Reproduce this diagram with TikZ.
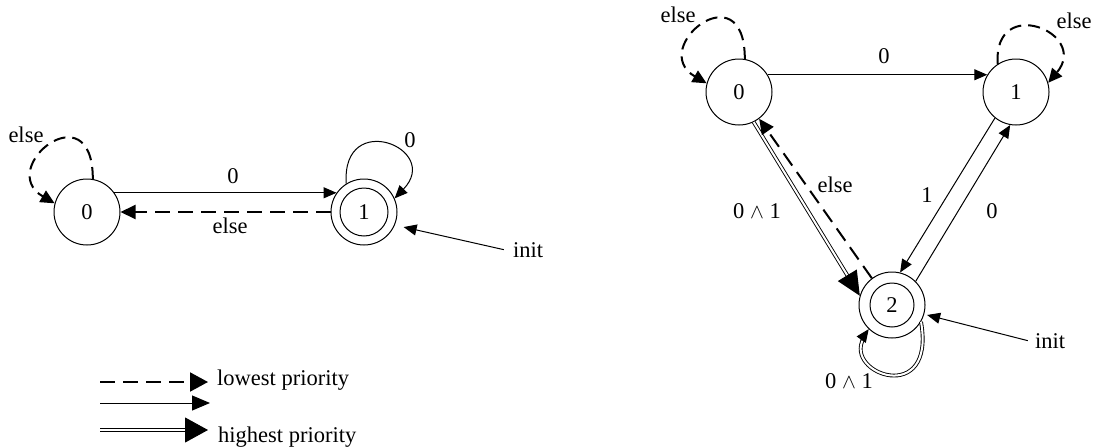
\documentclass[tikz,border=0pt]{standalone}
\usepackage{fontspec}
\setmainfont{Liberation Serif}
\usetikzlibrary{arrows.meta,calc}
\tikzset{
  txt/.style={font=\fontsize{22.5}{26}\selectfont},
  state/.style={circle,draw,line width=1pt,minimum size=66pt,inner sep=0pt,txt},
  accept/.style={path picture={\draw[line width=1pt] (path picture bounding box.center) circle (#1);}},
  lbl/.style={anchor=base,inner sep=0pt,txt},
  edge/.style={line width=1pt,-{Triangle[length=13pt,width=11pt]}},
  dedge/.style={line width=2pt,dash pattern=on 15pt off 8pt,-{Triangle[length=15pt,width=14pt]}},
  dloop/.style={line width=2pt,dash pattern=on 12pt off 7pt,-{Triangle[length=14pt,width=13pt]}},
  dbl/.style={line width=0.9pt,double,double distance=2pt},
  bigtip/.style={line width=1pt,-{Triangle[length=24pt,width=22pt]}},
  legdash/.style={line width=2pt,dash pattern=on 15pt off 8pt,-{Triangle[length=18pt,width=19pt]}},
  legsolid/.style={line width=1pt,-{Triangle[length=18pt,width=15pt]}},
  legbig/.style={line width=1pt,-{Triangle[length=23pt,width=25pt]}},
}
\begin{document}
\begin{tikzpicture}[x=1pt,y=-1pt]
\useasboundingbox (0,0) rectangle (1097,447);
% ---------- left automaton ----------
\node[state] (L0) at (87,212) {0};
\node[state,accept=24pt] (L1) at (364,212) {1};
\draw[edge] (L0.35) -- (L1.145);
\node[lbl] (lb0) at (233,183) {0};
\draw[dedge] (L1.west) -- (L0.east);
\node[lbl] (lb1) at (230,233) {else};
\draw[dloop] (L0.80) .. controls +(0,-90) and +(-60,-35) .. (L0.165);
\node[lbl] (lb2) at (26,142) {else};
\draw[edge] (L1.122) .. controls +(-5,-75) and +(48,-50) .. (L1.24);
\node[lbl] (lb3) at (410,147) {0};
\node[lbl] (iL) at (528,257) {init};
\draw[edge,shorten >=9pt] ([xshift=-9pt]iL.west) -- (L1.-23);
% ---------- right automaton ----------
\node[state] (R0) at (739,92) {0};
\node[state] (R1) at (1016,92) {1};
\node[state,accept=22pt] (R2) at (892,305) {2};
\draw[edge] (R0.31) -- (R1.149);
\node[lbl] (rl0) at (884,63) {0};
\draw[dloop] (R0.80) .. controls +(0,-90) and +(-60,-35) .. (R0.165);
\node[lbl] (rl1) at (678,23) {else};
\draw[dloop] (R1.123) .. controls +(-5,-70) and +(42,-50) .. (R1.16);
\node[lbl] (rl2) at (1074,28) {else};
% double 0 -> 2
\draw[dbl,shorten >=20pt] (R0.-64) -- (R2.164);
\draw[bigtip] ($(R2.164)!20pt!(R0.-64)$) -- (R2.164);
\node[lbl] (rl3) at (757,218) {0 $\wedge$ 1};
% dashed else 2 -> 0
\draw[dedge] (R2.127) -- (R0.-53);
\node[lbl] (rl4) at (835,192) {else};
% 1 -> 2 and 2 -> 1
\draw[edge] (R1.-129) -- (R2.76);
\node[lbl] (rl5) at (927,202) {1};
\draw[edge] (R2.45) -- (R1.-100);
\node[lbl] (rl6) at (992,218) {0};
% double self loop on 2
\draw[dbl,shorten >=11pt] (R2.-30) .. controls +(15,85) and +(-25,45) .. (R2.-134);
\draw[edge] ($(R2.-134)+(-8.1,11.4)$) -- (R2.-134);
\node[lbl] (rl7) at (849,388) {0 $\wedge$ 1};
\node[lbl] (iR) at (1050,348) {init};
\draw[edge,shorten >=3pt] ([xshift=-7pt]iR.west) -- (R2.-16);
% ---------- legend ----------
\coordinate (a1) at (100,382);
\coordinate (a2) at (208,382);
\draw[legdash] (a1) -- (a2);
\node[lbl,anchor=base west] (lg1) at (217,385) {lowest priority};
\coordinate (b1) at (100,403);
\coordinate (b2) at (210,403);
\draw[legsolid] (b1) -- (b2);
\coordinate (c1) at (100,430);
\coordinate (c2) at (208,430);
\draw[dbl,shorten >=20pt] (c1) -- (c2);
\draw[legbig] ($(c2)+(-20,0)$) -- (c2);
\node[lbl,anchor=base west] (lg2) at (218,442) {highest priority};
\end{tikzpicture}
\end{document}
